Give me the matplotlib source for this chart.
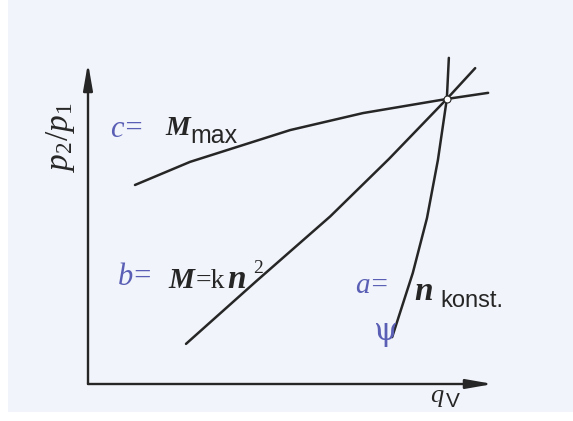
"""Kennlinien: Druckverhältnis p2/p1 über Volumenstrom qV."""
import matplotlib.pyplot as plt
from matplotlib.patches import Rectangle

plt.rcParams['mathtext.fontset'] = 'custom'
plt.rcParams['mathtext.rm'] = 'Liberation Serif'
plt.rcParams['mathtext.it'] = 'Liberation Serif:italic'
plt.rcParams['mathtext.sf'] = 'Liberation Sans'

# Kurven in willkürlichen Einheiten (0..10 auf beiden Achsen)
mmax_q = [1.16, 2.52, 4.99, 6.79, 8.86, 9.88]
mmax_p = [6.20, 6.92, 7.91, 8.44, 8.88, 9.07]

mkn2_q = [2.42, 4.17, 5.98, 7.43, 8.86, 9.56]
mkn2_p = [1.25, 3.22, 5.22, 7.01, 8.88, 9.84]

nkonst_q = [7.51, 8.02, 8.37, 8.64, 8.86, 8.91]
nkonst_p = [1.46, 3.46, 5.17, 6.98, 8.88, 10.16]

op_q, op_p = 8.86, 8.88  # Betriebspunkt

ink = '#262626'
pen = '#5a5fb5'
sym = dict(family='Liberation Serif', style='italic', weight='bold', color=ink)
sub = dict(family='Liberation Sans', color=ink)

fig = plt.figure(figsize=(5.73, 4.21), dpi=100)
fig.patch.set_facecolor('white')
fig.patches.append(Rectangle((8 / 573, 9 / 421), 1, 1, transform=fig.transFigure,
                             facecolor='#f1f4fa', edgecolor='none', zorder=-10))

ax = fig.add_axes([88 / 573, (421 - 384) / 421, 405 / 573, 321 / 421])
ax.set_xlim(0, 10)
ax.set_ylim(0, 10)
ax.axis('off')

arrow = dict(arrowstyle='-|>,head_length=1.6,head_width=0.28', color=ink, lw=1.7,
             shrinkA=0, shrinkB=0, mutation_scale=10)
ax.annotate('', xy=(0, 1), xytext=(0, 0), xycoords='axes fraction', arrowprops=arrow)
ax.annotate('', xy=(1, 0), xytext=(0, 0), xycoords='axes fraction', arrowprops=arrow)

for q, p in [(mmax_q, mmax_p), (mkn2_q, mkn2_p), (nkonst_q, nkonst_p)]:
    ax.plot(q, p, color=ink, lw=1.8, solid_capstyle='round', solid_joinstyle='round',
            clip_on=False)
ax.plot([op_q], [op_p], 'o', ms=5, mfc='white', mec=ink, mew=0.8, zorder=5, clip_on=False)

# Beschriftungen
ax.text(1.90, 7.76, 'M', fontsize=20, **sym)
ax.text(2.52, 7.51, 'max', fontsize=18, **sub)

ax.text(1.98, 2.99, 'M', fontsize=21, **sym)
ax.text(2.66, 2.99, '=k', fontsize=20, family='Liberation Serif', color=ink)
ax.text(3.45, 2.99, 'n', fontsize=24, **sym)
ax.text(4.07, 3.46, '2', fontsize=14, family='Liberation Serif', color=ink)

ax.text(8.05, 2.62, 'n', fontsize=24, **sym)
ax.text(8.69, 2.40, 'konst.', fontsize=17, **sub)

ax.text(8.44, -0.56, 'q', fontsize=19, clip_on=False,
        **{**sym, 'weight': 'normal'})
ax.text(8.84, -0.72, 'V', fontsize=15, clip_on=False, **sub)
ax.text(-0.67, 7.69, r'$p_2/p_1$', fontsize=24, rotation=90, ha='center', va='center',
        color=ink, clip_on=False)

# handschriftliche Zusätze (blau)
ax.text(0.54, 7.69, 'c=', fontsize=22, style='italic', family='Liberation Serif', color=pen)
ax.text(0.74, 3.08, 'b=', fontsize=22, style='italic', family='Liberation Serif', color=pen)
ax.text(6.59, 2.83, 'a=', fontsize=21, style='italic', family='Liberation Serif', color=pen)
ax.text(7.04, 1.37, 'ψ', fontsize=22, family='DejaVu Serif', color=pen)

fig.savefig('out.png', dpi=100)
